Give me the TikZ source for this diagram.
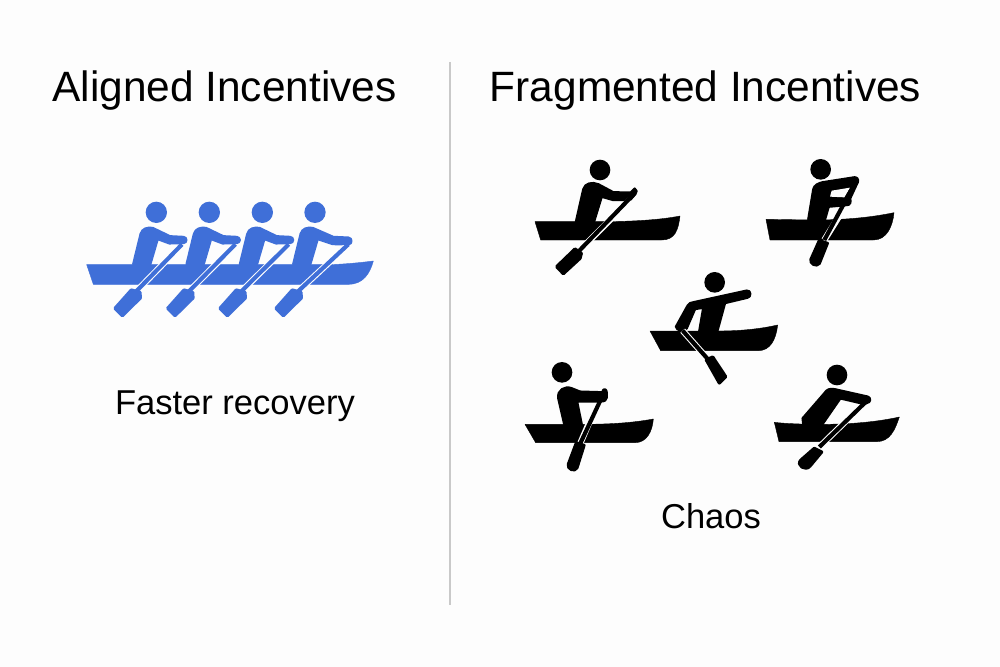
\documentclass[tikz,border=0pt]{standalone}
\usepackage{fontspec}
\setmainfont{Liberation Sans}
\definecolor{rowblue}{HTML}{3F6FD8}
\definecolor{pagebg}{HTML}{FDFDFD}
\definecolor{rule}{HTML}{C9C9C9}
\newcommand{\rowerfig}[2]{\begin{scope}[shift={(#1)},x=0.25pt,y=-0.25pt,fill=#2,draw=#2]}
\tikzset{
  solid shape/.style={line width=1.8pt,line join=round},
  halo/.style={draw=pagebg,line width=4.7pt},
  shaft/.style={line width=3.1pt},
  blade/.style={line width=2.4pt,line join=round},
  title/.style={anchor=base,font=\fontsize{31.8pt}{34pt}\selectfont,inner sep=0pt,text=black},
  caption/.style={anchor=base,font=\fontsize{25.9pt}{30pt}\selectfont,inner sep=0pt,text=black},
}
\begin{document}
\begin{tikzpicture}[x=0.75pt,y=-0.75pt]
\useasboundingbox (0,0) rectangle (1000,667);
\fill[pagebg] (0,0) rectangle (1000,667);
\node[title] (t1) at (224.5,101.5) {Aligned Incentives};
\node[title] (t2) at (705.5,101.5) {Fragmented Incentives};
\node[caption] (c1) at (235,414) {Faster recovery};
\node[caption] (c2) at (711,528) {Chaos};
\draw[rule,line width=1.2pt] (450,62) -- (450,605);
% blue crew
\rowerfig{70,190}{rowblue}
\filldraw[solid shape,line width=.3pt] (50,224) -- (780,224) .. controls (830,222) and (870,218) .. (910,213) .. controls (900,250) and (880,283) .. (835,283) -- (70,283) -- cycle;
\foreach \d/\b in {0/0,160/158,320/315}{
  \begin{scope}[xshift=\d*0.25pt]
  \filldraw[solid shape] (190,222) -- (212,132) .. controls (217,115) and (232,112) .. (248,114) -- (300,139) -- (340,141) .. controls (352,142) and (352,158) .. (340,159) -- (298,160) -- (263,147) -- (241,222) -- cycle;
  \end{scope}
}
\filldraw[solid shape] (670,222) -- (692,132) .. controls (697,115) and (712,112) .. (728,114) -- (790,141) -- (835,143) .. controls (847,144) and (847,162) .. (835,163) -- (788,162) -- (743,147) -- (721,222) -- cycle;
\foreach \x/\h in {259/67,418/67,577/67,735/67}{\fill (\x,\h) circle (32);}
\foreach \d/\b in {0/0,160/158,320/315}{
  \begin{scope}[xshift=\d*0.25pt]
  \draw[halo] (328,172) -- ({195-\d+\b},308);
  \draw[shaft] (336,163) -- ({195-\d+\b},308);
  \end{scope}
  \begin{scope}[xshift=\b*0.25pt]
  \filldraw[blade] (184,300) -- (210,307) -- (211,324) -- (157,377) -- (135,355) -- cycle;
  \end{scope}
}
\draw[halo] (826,172) -- (680,308);
\draw[shaft] (835,163) -- (680,308);
\begin{scope}[xshift=483*0.25pt]
\filldraw[blade] (184,300) -- (210,307) -- (211,324) -- (157,377) -- (135,355) -- cycle;
\end{scope}
\end{scope}
% rower A
\rowerfig{520,150}{black}
\fill (240,60) circle (31);
\filldraw[solid shape,line width=.3pt] (45,215) -- (240,215) .. controls (330,215) and (420,210) .. (480,198) .. controls (475,240) and (465,270) .. (425,270) -- (62,270) -- cycle;
\filldraw[solid shape] (168,215) -- (190,118) .. controls (195,100) and (215,95) .. (235,103) -- (280,127) -- (332,128) -- (344,116) .. controls (352,118) and (350,128) .. (346,132) -- (330,150) -- (280,150) -- (245,140) -- (222,215) -- cycle;
\draw[halo] (330,150) -- (178,302);
\draw[shaft] (342,132) -- (178,302);
\filldraw[blade] (165,297) -- (184,310) -- (180,325) -- (130,371) -- (110,350) -- cycle;
\end{scope}
% rower B
\rowerfig{750,150}{black}
\fill (212,58) circle (31);
\filldraw[solid shape,line width=.3pt] (48,208) -- (190,210) .. controls (280,210) and (360,203) .. (432,188) .. controls (428,230) and (410,270) .. (370,270) -- (60,270) -- cycle;
\filldraw[solid shape] (175,208) -- (190,118) .. controls (193,105) and (205,100) .. (218,97) -- (314,82) .. controls (326,82) and (326,95) .. (320,103) -- (300,146) .. controls (304,155) and (300,166) .. (290,165) -- (236,170) -- (225,208) -- cycle;
\fill[pagebg] (245,122) -- (300,113) -- (283,142) -- (240,140) -- cycle;
\draw[halo] (282,175) -- (223,270);
\draw[shaft] (312,105) -- (223,270);
\filldraw[blade] (208,272) -- (232,280) -- (208,340) .. controls (200,352) and (178,340) .. (183,328) -- cycle;
\end{scope}
% rower C
\rowerfig{640,265}{black}
\fill (224,52) circle (31);
\filldraw[solid shape,line width=.3pt] (30,198) -- (235,198) .. controls (300,198) and (360,192) .. (413,180) .. controls (408,225) and (390,257) .. (355,257) -- (62,257) -- cycle;
\filldraw[solid shape] (178,198) -- (190,128) -- (165,132) -- (140,190) .. controls (132,200) and (110,198) .. (108,185) -- (143,122) .. controls (147,115) and (152,113) .. (160,112) -- (320,77) .. controls (334,75) and (334,97) .. (322,98) -- (255,114) -- (232,198) -- cycle;
\draw[halo] (128,197) -- (212,292);
\draw[shaft] (128,197) -- (212,292);
\filldraw[blade] (199,285) -- (218,276) -- (257,335) -- (238,354) -- cycle;
\end{scope}
% rower D
\rowerfig{515,355}{black}
\fill (141,52) circle (31);
\filldraw[solid shape,line width=.3pt] (30,208) -- (200,208) .. controls (280,208) and (350,204) .. (415,192) .. controls (412,230) and (395,263) .. (360,263) -- (62,263) -- cycle;
\filldraw[solid shape] (148,208) -- (130,130) .. controls (126,105) and (150,92) .. (170,100) -- (195,110) -- (262,112) .. controls (264,100) and (274,100) .. (275,112) -- (275,128) .. controls (275,135) and (268,139) .. (258,139) -- (186,139) -- (200,208) -- cycle;
\draw[halo] (245,150) -- (196,265);
\draw[shaft] (266,115) -- (196,265);
\filldraw[blade] (184,264) -- (207,271) -- (186,338) .. controls (180,352) and (156,342) .. (160,328) -- cycle;
\end{scope}
% rower E
\rowerfig{765,355}{black}
\fill (216,60) circle (31);
\filldraw[solid shape,line width=.3pt] (28,202) .. controls (60,206) and (120,208) .. (170,208) .. controls (260,208) and (340,200) .. (403,186) .. controls (390,225) and (375,260) .. (335,260) -- (42,260) -- cycle;
\filldraw[solid shape] (115,208) -- (113,190) -- (178,115) .. controls (185,103) and (195,100) .. (210,103) -- (308,125) .. controls (318,128) and (318,142) .. (305,144) -- (298,147) -- (226,130) -- (172,208) -- cycle;
\draw[halo] (285,157) -- (163,276);
\draw[shaft] (300,143) -- (163,276);
\filldraw[blade] (148,280) -- (170,291) -- (135,333) .. controls (122,350) and (92,330) .. (108,315) -- cycle;
\end{scope}
\end{tikzpicture}
\end{document}
